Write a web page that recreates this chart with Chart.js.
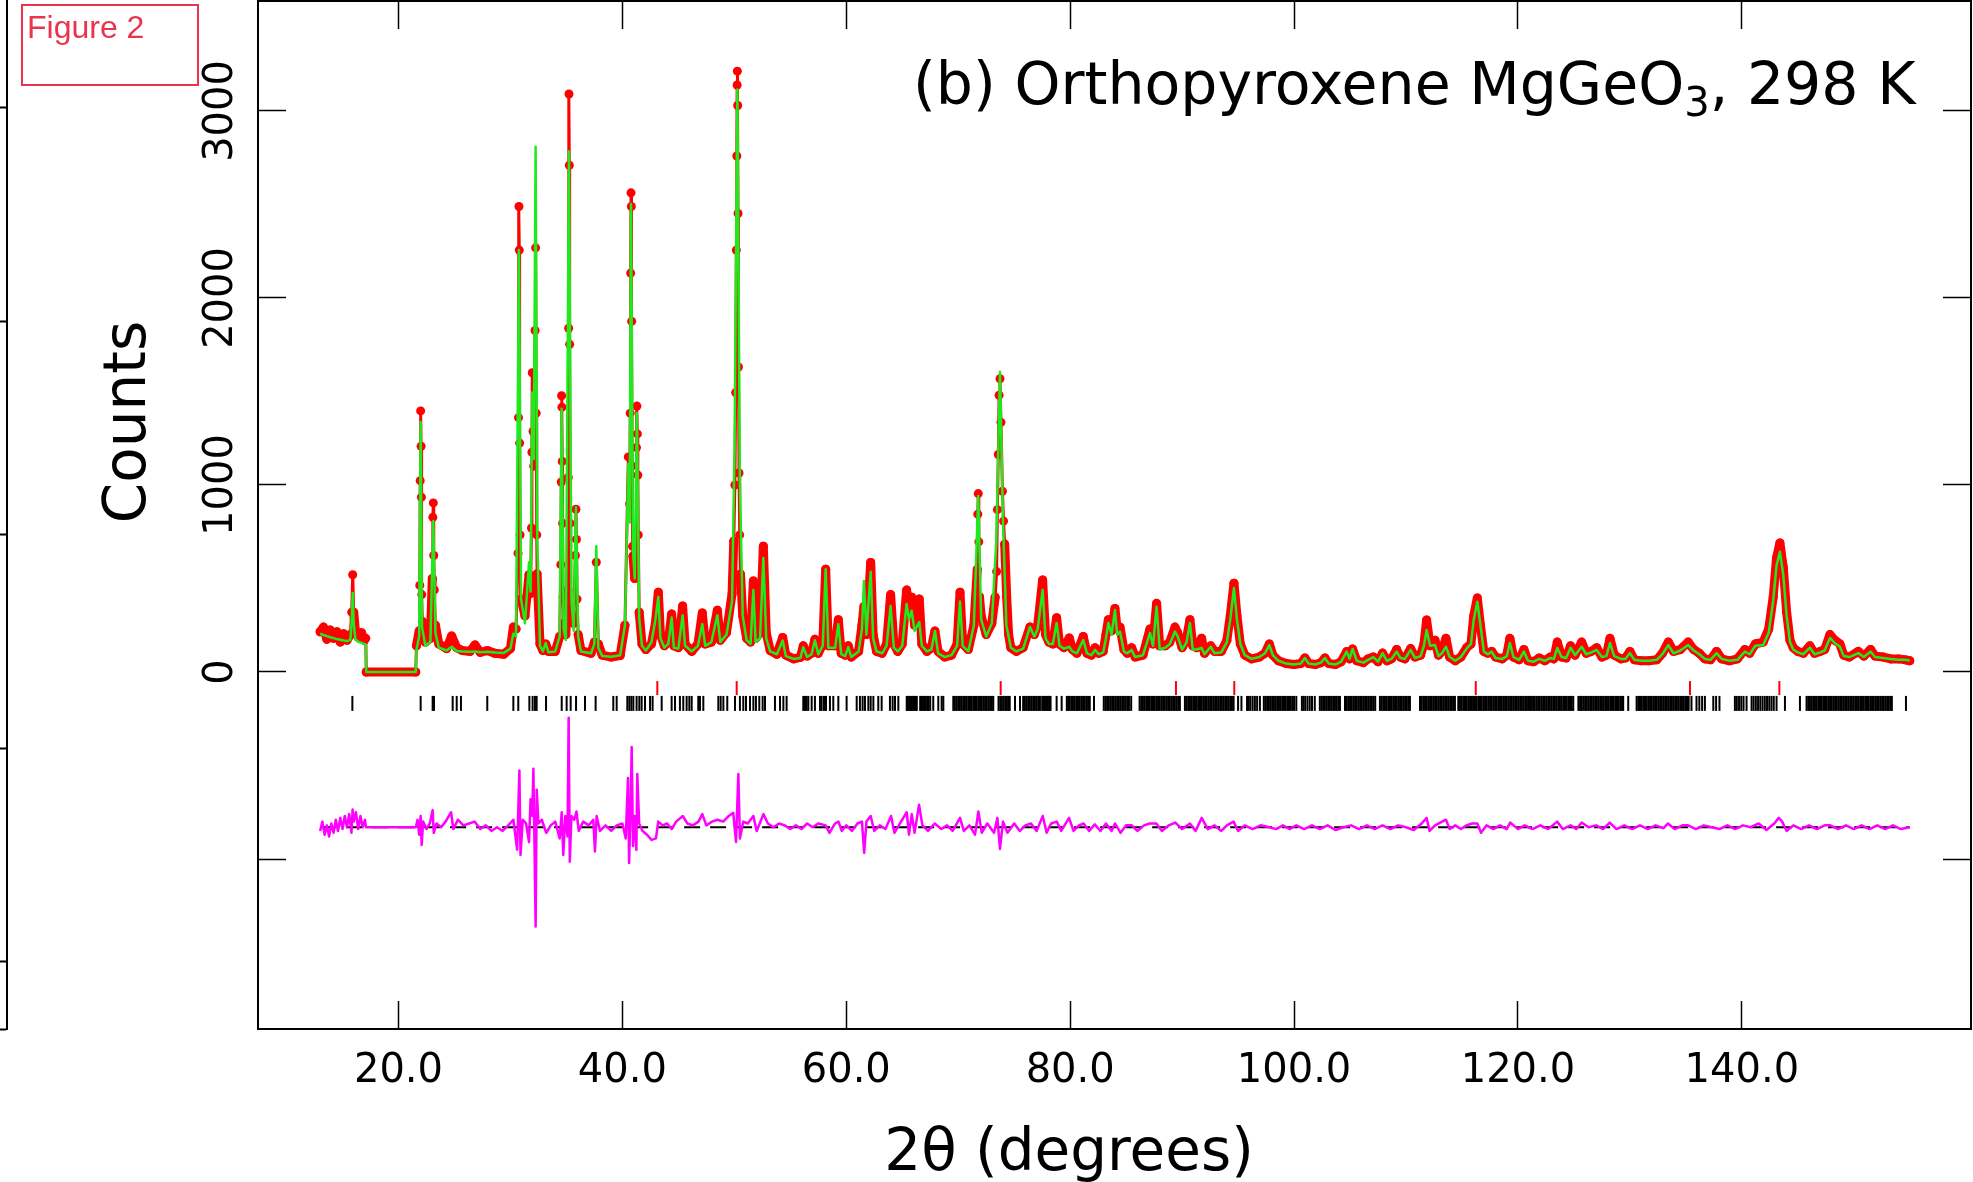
<!DOCTYPE html>
<html>
<head>
<meta charset="utf-8">
<script src="https://cdn.jsdelivr.net/npm/chart.js@4.4.0/dist/chart.umd.min.js"></script>
<style>
  html, body { margin: 0; padding: 0; background: #fff; }
  canvas { display: block; }
</style>
</head>
<body>
<canvas id="grafico" width="1973" height="1182"></canvas>
<script>
const obsTheta = [
  13.0,13.3,13.6,13.9,14.2,14.5,14.8,15.1,15.4,15.7,
  15.82,15.91,16.0,16.15,16.4,16.7,16.95,17.08,17.12,21.54,
  21.6,21.85,21.9,21.94,21.98,22.02,22.05,22.08,22.13,22.4,
  22.85,23.02,23.07,23.11,23.15,23.2,23.3,23.6,24.3,24.75,
  25.2,25.7,26.4,26.83,27.3,27.93,28.6,29.4,30.0,30.26,
  30.5,30.68,30.72,30.76,30.79,30.82,30.86,30.9,31.0,31.3,
  31.66,31.8,31.88,31.92,31.95,32.02,32.08,32.2,32.25,32.3,
  32.35,32.38,32.64,32.9,33.15,33.4,34.0,34.4,34.5,34.54,
  34.57,34.6,34.63,34.66,34.7,34.78,34.95,35.14,35.17,35.2,
  35.23,35.26,35.29,35.33,35.38,35.65,35.8,35.85,35.9,35.95,
  36.05,36.3,37.2,37.5,37.67,37.85,38.2,39.0,39.8,40.23,
  40.53,40.65,40.7,40.74,40.77,40.8,40.83,40.87,40.91,40.95,
  41.1,41.22,41.26,41.3,41.34,41.38,41.42,41.5,41.75,42.1,
  42.6,42.95,43.21,43.4,43.75,44.1,44.4,44.6,45.0,45.38,
  45.6,46.2,46.75,47.14,47.4,47.95,48.48,48.75,49.3,49.8,
  49.95,50.05,50.12,50.18,50.22,50.25,50.27,50.3,50.33,50.37,
  50.42,50.48,50.55,50.75,51.1,51.45,51.7,51.9,52.3,52.59,
  52.85,53.2,53.8,54.32,54.6,55.3,55.9,56.16,56.5,56.9,
  57.2,57.5,57.9,58.16,58.4,59.0,59.29,59.55,59.9,60.18,
  60.45,61.1,61.4,61.58,61.8,62.18,62.4,62.7,63.2,63.6,
  63.96,64.25,64.6,65.0,65.39,65.6,65.84,66.1,66.52,66.75,
  67.2,67.6,67.92,68.2,68.8,69.4,69.9,70.16,70.4,70.9,
  71.4,71.7,71.75,71.79,71.84,71.9,72.05,72.5,73.0,73.3,
  73.43,73.5,73.58,73.65,73.73,73.82,73.95,74.05,74.15,74.33,
  74.5,74.7,
  75.2,75.8,76.41,76.8,77.1,77.54,77.8,
  78.1,78.45,78.79,79.05,79.45,79.92,80.2,80.6,81.17,81.5,
  81.9,82.22,82.55,82.95,83.2,83.41,83.7,84.0,84.2,84.45,
  84.8,85.1,85.49,85.8,86.5,87.13,87.4,87.72,88.0,88.5,
  88.9,89.36,89.6,90.0,90.4,90.7,90.95,91.3,91.74,92.0,
  92.55,92.9,93.5,94.0,94.3,94.63,94.9,95.2,95.6,96.2,
  96.9,97.4,97.79,98.1,98.6,99.3,100.0,100.6,100.97,101.3,
  101.9,102.4,102.76,103.1,103.7,104.2,104.7,104.95,105.23,105.6,
  106.2,106.6,107.08,107.5,107.91,108.3,108.7,109.16,109.5,109.9,
  110.41,110.8,111.3,111.6,111.84,112.15,112.59,112.9,113.2,113.57,
  113.9,114.4,114.9,115.42,115.8,116.05,116.37,116.65,116.95,117.3,
  117.65,118.0,118.6,119.0,119.28,119.6,120.1,120.53,120.9,121.4,
  121.9,122.4,122.9,123.2,123.51,123.9,124.3,124.7,125.1,125.69,
  126.1,126.55,127.03,127.5,127.9,128.22,128.6,129.2,129.6,130.0,
  130.4,131.0,131.7,132.4,132.9,133.43,133.9,134.5,135.21,135.7,
  136.2,136.7,137.2,137.74,138.2,138.9,139.6,140.27,140.7,141.2,
  141.91,142.4,142.8,143.1,143.4,143.7,144.0,144.3,144.59,145.0,
  145.5,146.08,146.5,147.0,147.4,147.87,148.3,148.76,149.1,149.6,
  150.4,150.9,151.5,151.9,152.63,153.3,154.0,154.6,155.0
];
const obsCounts = [
  215,240,175,225,180,215,160,205,170,200,
  320,520,320,220,185,210,170,180,0,0,
  140,220,463,1023,1396,1207,935,414,270,160,
  180,500,827,904,623,439,250,150,125,193,
  130,115,110,145,105,115,100,95,125,240,
  230,635,1360,2489,2256,1224,733,390,380,300,
  520,420,770,1175,1600,1286,1100,1826,2268,1384,
  733,525,150,115,150,110,110,190,574,1016,
  1477,1416,1126,795,402,260,200,439,1040,1838,
  3091,2710,1752,795,328,260,623,870,709,390,
  200,115,100,160,587,150,90,80,88,250,
  1150,900,1384,2133,2562,2489,1875,1102,672,620,
  500,733,1200,1422,1273,1053,733,320,150,120,
  150,260,427,200,140,160,310,140,130,353,
  150,110,150,316,150,160,330,170,210,420,
  700,1000,1494,2256,2759,3139,3213,3029,2452,1631,
  1064,733,524,300,180,160,487,180,210,673,
  210,115,95,185,90,70,78,140,85,100,
  175,100,150,550,140,140,280,100,90,140,
  80,110,250,350,200,586,200,110,100,150,
  414,150,110,150,438,330,400,250,390,150,
  110,130,219,110,80,90,150,427,150,120,
  250,549,844,954,696,402,300,200,260,400,
  537,868,1163,1480,1568,1335,966,807,684,402,
  200,130,
  110,130,241,200,250,492,200,
  160,150,290,150,130,182,120,100,190,100,
  90,130,100,110,200,280,220,340,230,240,
  120,100,130,80,90,230,150,367,140,140,
  160,240,210,130,180,280,140,130,180,100,
  140,110,110,170,300,475,300,150,90,70,
  80,100,150,90,60,45,40,45,75,45,
  40,50,75,45,40,55,109,70,123,60,
  50,70,80,55,101,60,70,120,80,70,
  125,80,90,150,278,140,170,90,110,180,
  80,60,80,130,150,300,396,250,110,100,
  110,80,70,90,180,80,65,120,60,55,
  75,60,80,70,160,80,75,140,90,160,
  100,110,130,80,90,180,90,70,75,110,
  65,60,60,65,100,160,110,120,160,120,
  100,70,65,110,70,60,70,120,100,150,
  160,230,400,610,690,560,320,170,130,110,
  100,140,100,110,120,200,170,150,90,80,
  110,85,120,85,80,70,70,65,60
];

// calculated profile (green line)
const calcTheta = [
  13.0,13.3,13.6,13.9,14.2,14.5,14.8,15.1,15.4,15.7,
  15.82,15.91,16.0,16.15,16.4,16.7,16.95,17.08,17.12,21.54,
  21.6,21.85,21.98,22.1,22.4,22.85,23.11,23.3,23.6,24.3,
  24.75,25.2,25.7,26.4,26.83,27.3,27.93,28.6,29.4,30.0,
  30.26,30.5,30.76,30.95,31.3,31.66,31.8,31.95,32.08,32.25,
  32.4,32.64,32.9,33.15,33.4,34.0,34.4,34.57,34.75,34.95,
  35.23,35.45,35.65,35.85,36.05,36.3,37.2,37.5,37.67,37.85,
  38.2,39.0,39.8,40.23,40.53,40.65,40.77,40.95,41.1,41.3,
  41.5,41.75,42.1,42.6,42.95,43.21,43.4,43.75,44.1,44.4,
  44.6,45.0,45.38,45.6,46.2,46.75,47.14,47.4,47.95,48.48,
  48.75,49.3,49.8,50.02,50.27,50.5,50.75,51.1,51.45,51.7,
  51.9,52.3,52.59,52.85,53.2,53.8,54.32,54.6,55.3,55.9,
  56.16,56.5,56.9,57.2,57.5,57.9,58.16,58.4,59.0,59.29,
  59.55,59.9,60.18,60.45,61.1,61.4,61.58,61.8,62.18,62.4,
  62.7,63.2,63.6,63.96,64.25,64.6,65.0,65.39,65.6,65.84,
  66.1,66.52,66.75,67.2,67.6,67.92,68.2,68.8,69.4,69.9,
  70.16,70.4,70.9,71.4,71.79,72.05,72.5,73.0,73.4,73.73,
  74.0,74.3,74.7,75.2,75.8,76.41,76.8,77.1,77.54,77.8,
  78.1,78.45,78.79,79.05,79.45,79.92,80.2,80.6,81.17,81.5,
  81.9,82.22,82.55,82.95,83.2,83.41,83.7,84.0,84.2,84.45,
  84.8,85.1,85.49,85.8,86.5,87.13,87.4,87.72,88.0,88.5,
  88.9,89.36,89.6,90.0,90.4,90.7,90.95,91.3,91.74,92.0,
  92.55,92.9,93.5,94.0,94.3,94.63,94.9,95.2,95.6,96.2,
  96.9,97.4,97.79,98.1,98.6,99.3,100.0,100.6,100.97,101.3,
  101.9,102.4,102.76,103.1,103.7,104.2,104.7,104.95,105.23,105.6,
  106.2,106.6,107.08,107.5,107.91,108.3,108.7,109.16,109.5,109.9,
  110.41,110.8,111.3,111.6,111.84,112.15,112.59,112.9,113.2,113.57,
  113.9,114.4,114.9,115.42,115.8,116.05,116.37,116.65,116.95,117.3,
  117.65,118.0,118.6,119.0,119.28,119.6,120.1,120.53,120.9,121.4,
  121.9,122.4,122.9,123.2,123.51,123.9,124.3,124.7,125.1,125.69,
  126.1,126.55,127.03,127.5,127.9,128.22,128.6,129.2,129.6,130.0,
  130.4,131.0,131.7,132.4,132.9,133.43,133.9,134.5,135.21,135.7,
  136.2,136.7,137.2,137.74,138.2,138.9,139.6,140.27,140.7,141.2,
  141.91,142.4,142.8,143.1,143.4,143.7,144.0,144.3,144.59,145.0,
  145.5,146.08,146.5,147.0,147.4,147.87,148.3,148.76,149.1,149.6,
  150.4,150.9,151.5,151.9,152.63,153.3,154.0,154.6,155.0
];
const calcCounts = [
  205,198,192,186,181,176,172,168,165,172,
  270,422,260,175,162,156,150,146,0,0,
  118,190,1337,240,140,160,807,210,130,115,
  135,112,110,108,110,106,108,104,102,125,
  205,190,2256,390,260,587,430,1494,1139,2808,
  700,140,110,155,105,110,190,1408,230,171,
  2784,380,220,881,190,110,100,150,673,130,
  85,82,90,250,1114,800,2502,650,500,1385,
  290,140,115,160,280,401,180,130,150,291,
  130,125,304,140,110,140,256,140,160,304,
  160,200,380,1200,3115,1000,300,170,150,439,
  160,180,610,180,110,95,168,85,70,75,
  133,80,95,170,95,140,550,130,130,256,
  95,85,133,80,110,230,487,200,536,180,
  110,100,140,353,130,110,140,364,280,328,
  220,267,140,110,120,219,100,80,90,140,
  377,140,110,250,941,280,190,260,700,1605,
  800,250,130,110,125,241,190,230,439,180,
  150,150,262,140,125,135,110,100,171,100,
  90,118,95,105,180,262,200,331,200,216,
  110,100,118,80,90,208,140,349,120,130,
  150,216,190,120,160,262,120,120,128,95,
  135,100,105,160,280,449,280,150,90,70,
  80,100,144,90,60,45,40,45,75,45,
  40,50,75,45,40,55,109,70,123,60,
  50,65,80,55,101,60,70,109,75,70,
  118,75,85,140,224,140,144,85,100,135,
  80,60,80,125,150,280,376,250,110,95,
  109,75,70,85,155,80,65,109,60,55,
  70,60,75,70,128,80,75,130,90,135,
  95,105,118,80,85,155,85,70,70,101,
  65,60,60,65,95,144,100,115,144,115,
  95,70,65,101,70,60,65,109,95,140,
  144,210,380,570,643,520,300,160,120,105,
  95,130,95,105,115,182,155,135,85,80,
  101,80,109,80,75,70,65,65,62
];

// difference curve (obs - calc), drawn shifted down by diffOffset
const diffTheta = [
  13.0,13.2,13.4,13.6,13.8,14.0,14.2,14.4,14.6,14.8,
  15.0,15.2,15.4,15.6,15.8,15.9,16.0,16.2,16.4,16.6,
  16.8,17.0,17.1,21.55,21.7,21.85,21.98,22.07,22.2,22.5,
  22.8,23.05,23.15,23.4,23.8,24.2,24.7,24.9,25.3,25.8,
  26.3,26.8,27.3,27.8,28.3,28.8,29.3,29.8,30.26,30.6,
  30.8,30.9,31.1,31.4,31.66,31.8,31.95,32.05,32.15,32.25,
  32.35,32.5,32.8,33.2,33.6,34.0,34.4,34.58,34.72,34.9,
  35.1,35.2,35.3,35.45,35.7,35.9,36.1,36.5,37.0,37.4,
  37.55,37.7,38.0,38.5,39.0,39.5,40.0,40.3,40.5,40.6,
  40.75,40.83,40.95,41.1,41.25,41.33,41.5,41.8,42.2,42.6,
  43.0,43.2,43.6,44.0,44.4,44.8,45.4,45.8,46.3,46.8,
  47.14,47.5,48.0,48.5,49.0,49.5,49.9,50.15,50.36,50.5,
  50.8,51.2,51.7,52.0,52.6,53.0,53.5,54.0,54.5,55.0,
  55.5,56.0,56.5,57.0,57.5,58.16,58.5,59.0,59.3,59.6,
  60.0,60.5,61.0,61.4,61.6,61.8,62.18,62.5,63.0,63.5,
  64.0,64.3,64.8,65.4,65.6,65.85,66.1,66.5,66.8,67.3,
  67.9,68.5,69.0,69.5,70.16,70.5,71.0,71.5,71.8,72.1,
  72.6,73.2,73.5,73.73,74.0,74.4,75.0,75.5,76.0,76.5,
  77.0,77.55,77.9,78.3,78.8,79.2,79.9,80.3,80.8,81.2,
  81.7,82.2,82.7,83.2,83.7,84.0,84.5,85.0,85.5,86.0,
  86.6,87.1,87.7,88.2,88.8,89.4,90.0,90.7,91.2,91.75,
  92.3,92.9,93.5,94.0,94.6,95.0,95.6,96.3,97.0,97.8,
  98.4,99.0,99.6,100.2,100.9,101.6,102.3,103.0,103.7,104.4,
  105.1,105.8,106.5,107.2,107.9,108.6,109.3,110.0,110.7,111.4,
  111.84,112.1,112.6,113.57,113.9,114.4,114.9,115.4,115.9,116.37,
  116.7,117.2,117.8,118.4,119.0,119.3,120.0,120.6,121.3,122.0,
  122.7,123.5,124.0,124.7,125.2,125.7,126.3,127.0,127.6,128.2,
  128.8,129.5,130.2,130.9,131.6,132.3,133.0,133.4,134.0,134.7,
  135.2,135.9,136.6,137.3,138.0,138.7,139.4,140.1,140.8,141.5,
  142.2,142.9,143.3,143.6,144.0,144.6,145.3,146.0,146.7,147.4,
  147.9,148.6,149.3,150.0,150.7,151.4,152.1,152.8,153.5,154.2,
  155.0
];
const diffCounts = [
  -20,30,-40,10,-50,20,-30,40,-20,50,
  -10,60,0,70,-30,95,30,80,-10,60,
  0,40,0,0,40,-40,60,-95,30,-10,
  20,92,-30,20,0,30,80,-10,40,10,
  20,30,-10,10,-20,0,-20,10,40,-120,
  303,-148,40,20,-80,150,60,312,-100,-531,
  200,20,40,-30,10,30,-60,80,-148,60,
  -50,585,-184,60,40,84,-20,30,10,40,
  -130,60,-20,10,-20,10,20,-60,263,-191,
  150,429,-100,60,-121,284,20,-20,-40,-68,
  -60,30,10,20,-10,30,60,20,10,30,
  70,10,30,40,30,60,77,-79,285,-60,
  30,20,60,-20,70,20,0,20,10,-10,
  10,-10,20,0,20,10,-30,20,30,-20,
  10,-20,20,30,-138,30,60,-20,10,-10,
  60,-30,20,80,-40,70,-30,120,10,-20,
  20,-10,10,-20,50,-20,10,-40,84,-30,
  20,-30,50,-116,30,-30,20,-20,10,20,
  -20,60,-30,20,30,-20,50,-20,10,20,
  -20,15,-20,20,-20,20,-30,10,10,-20,
  10,20,20,-20,10,25,-10,20,-20,50,
  -10,10,-20,10,30,-20,10,-10,10,0,
  -10,10,-10,10,-10,10,-10,10,-15,0,
  10,-10,10,-10,10,-10,10,0,-15,20,
  50,-20,10,40,-10,10,-10,10,20,20,
  -30,10,-10,10,-10,25,-10,10,-10,10,
  -10,30,-10,10,-10,25,0,10,-10,25,
  -10,10,-10,10,-10,10,-5,20,-10,10,
  10,-10,10,0,-10,10,-10,10,0,20,
  -15,20,50,30,-20,10,-10,10,-10,10,
  10,-10,10,-10,10,-10,10,-10,10,-10,
  0
];
const diffOffset = -830;

// reflection positions (black: main phase, red: second phase)
const blackTicks = [
  15.88,21.98,23.05,23.17,24.84,25.2,25.58,27.93,30.26,30.7,
  31.69,31.98,32.19,32.34,33.18,34.58,35.02,35.38,35.86,36.66,
  37.61,39.19,39.49,40.44,40.62,40.8,40.98,41.27,41.51,41.72,
  42.02,42.47,42.7,43.51,44.4,44.7,45.14,45.44,45.74,45.98,
  46.19,46.78,46.93,47.23,48.57,48.78,49.02,49.37,50.06,50.5,
  50.8,51.04,51.4,51.7,51.93,52.23,52.53,52.74,53.63,54.08,
  54.38,54.67,56.16,56.31,56.46,56.61,56.91,57.2,57.65,57.8,
  58.01,58.19,58.54,58.84,59.29,60.03,60.93,61.22,61.46,61.67,
  61.97,62.18,62.42,62.86,63.16,63.9,64.14,64.35,64.65,65.4,
  65.5,65.62,65.75,65.85,65.97,66.1,66.2,66.3,66.6,66.72,
  66.85,66.97,67.1,67.23,67.35,67.5,67.77,68.22,68.52,68.67,
  69.56,69.7,69.85,70.0,70.15,70.3,70.45,70.6,70.75,70.9,
  71.05,71.2,71.35,71.5,71.65,71.8,71.95,72.1,72.25,72.4,
  72.55,72.7,72.85,73.0,73.13,73.6,73.75,73.9,74.05,74.2,
  74.35,74.5,74.6,75.07,75.52,75.8,75.95,76.1,76.25,76.4,
  76.55,76.7,76.85,77.0,77.15,77.3,77.5,77.62,77.75,77.88,
  78.0,78.12,78.25,78.79,79.24,79.7,79.82,79.95,80.1,80.25,
  80.4,80.55,80.7,80.85,81.0,81.15,81.3,81.45,81.6,81.75,
  82.13,83.0,83.15,83.3,83.45,83.6,83.75,83.9,84.05,84.2,
  84.35,84.5,84.65,84.8,84.95,85.1,85.25,85.45,86.2,86.35,
  86.5,86.65,86.8,86.95,87.1,87.25,87.4,87.55,87.7,87.85,
  88.0,88.15,88.3,88.45,88.6,88.75,88.9,89.05,89.2,89.35,
  89.5,89.65,89.8,90.25,90.4,90.55,90.7,90.85,91.0,91.15,
  91.3,91.45,91.6,91.75,91.9,92.05,92.2,92.35,92.5,92.65,
  92.8,92.95,93.1,93.25,93.4,93.55,93.7,93.85,94.0,94.15,
  94.3,94.45,94.6,95.0,95.3,95.8,95.95,96.1,96.3,96.5,
  96.7,96.95,97.3,97.45,97.6,97.75,97.9,98.05,98.2,98.35,
  98.5,98.65,98.8,98.95,99.1,99.25,99.4,99.55,99.7,99.85,
  100.0,100.2,100.7,100.85,101.0,101.2,101.4,101.6,101.85,102.3,
  102.45,102.6,102.75,102.9,103.05,103.2,103.35,103.5,103.65,103.8,
  103.95,104.1,104.55,104.7,104.85,105.0,105.15,105.3,105.45,105.6,
  105.75,105.9,106.05,106.2,106.35,106.5,106.65,106.8,106.95,107.1,
  107.25,107.67,107.82,107.97,108.12,108.27,108.42,108.57,108.72,108.87,
  109.02,109.17,109.32,109.47,109.62,109.77,109.92,110.07,110.22,110.35,
  111.25,111.4,111.55,111.7,111.85,112.0,112.15,112.3,112.45,112.6,
  112.75,112.9,113.05,113.2,113.35,113.5,113.65,113.8,113.95,114.1,
  114.25,114.37,114.67,114.82,114.97,115.12,115.27,115.42,115.57,115.72,
  115.87,116.0,116.16,116.31,116.46,116.61,116.76,116.91,117.06,117.21,
  117.36,117.51,117.66,117.81,117.96,118.11,118.26,118.4,118.55,118.7,
  118.85,119.0,119.15,119.3,119.45,119.6,119.75,119.9,120.05,120.2,
  120.35,120.5,120.65,120.8,120.95,121.07,121.2,121.35,121.5,121.65,
  121.8,121.95,122.1,122.25,122.4,122.55,122.7,122.85,123.0,123.15,
  123.3,123.45,123.6,123.75,123.9,124.05,124.2,124.35,124.5,124.65,
  124.8,124.94,125.4,125.55,125.7,125.85,126.0,126.15,126.3,126.45,
  126.6,126.75,126.9,127.05,127.2,127.35,127.5,127.65,127.8,127.95,
  128.1,128.25,128.4,128.55,128.7,128.85,129.0,129.15,129.3,129.4,
  129.85,130.6,130.75,130.9,131.05,131.2,131.35,131.5,131.65,131.8,
  131.95,132.1,132.25,132.4,132.55,132.7,132.85,133.0,133.15,133.3,
  133.45,133.6,133.75,133.9,134.05,134.2,134.35,134.5,134.65,134.8,
  134.95,135.1,135.25,135.5,135.95,136.2,136.45,136.7,137.45,137.7,
  138.0,139.38,139.55,139.75,139.95,140.15,140.42,140.87,141.05,141.25,
  141.45,141.65,141.85,142.05,142.25,142.45,142.65,142.85,143.1,143.85,
  145.19,145.78,145.93,146.08,146.23,146.38,146.53,146.68,146.83,146.98,
  147.13,147.28,147.43,147.58,147.73,147.88,148.03,148.18,148.33,148.48,
  148.63,148.78,148.93,149.08,149.23,149.38,149.53,149.68,149.83,149.98,
  150.13,150.28,150.43,150.58,150.73,150.88,151.03,151.18,151.33,151.48,
  151.63,151.78,151.93,152.08,152.23,152.38,152.53,152.68,152.83,152.98,
  153.13,153.28,153.4,154.66
];
const redTicks = [43.12, 50.21, 73.79, 89.45, 94.66, 116.23, 135.37, 143.35];
const blackTickRow = -168;
const redTickRow = -86;

// axes
const xMin = 7.45, xMax = 160.47;
const yMin = -1909, yMax = 3588;
const xTicks = [20, 40, 60, 80, 100, 120, 140];
const yTicks = [-1000, 0, 1000, 2000, 3000];
// stray axis at the far left (other panel), arbitrary units
const strayMin = -0.314, strayMax = 4.501;
const strayTicks = [-0.314, 0, 1, 2, 3, 4];

const fonte = 'DejaVu Sans';
Chart.defaults.font.family = fonte;
Chart.defaults.color = '#000';

function pontos(xs, ys, desloc) {
  return xs.map((t, i) => ({ x: t, y: ys[i] + (desloc || 0) }));
}
function linhaTicks(xs, yRow) {
  return xs.map(t => ({ x: t, y: yRow }));
}

// inward ticks, frame on all four sides
function eixoX(pos, comRotulos) {
  return {
    type: 'linear', position: pos, min: xMin, max: xMax,
    afterBuildTicks: s => { s.ticks = xTicks.map(v => ({ value: v })); },
    afterFit: s => {
      s.height = pos === 'bottom' ? 153 : 1;
      s.paddingLeft = 0; s.paddingRight = 0; s.paddingTop = 0; s.paddingBottom = 0;
    },
    border: { display: true, color: '#000', width: 2 },
    grid: { drawOnChartArea: false, drawTicks: true, tickLength: -28, tickWidth: 1.5, tickColor: '#000' },
    ticks: {
      display: comRotulos, color: '#000', font: { family: fonte, size: 40 },
      padding: 47, maxRotation: 0, minRotation: 0, autoSkip: false,
      callback: v => v.toFixed(1)
    }
  };
}
function eixoY(pos, comRotulos, largura) {
  return {
    type: 'linear', position: pos, min: yMin, max: yMax, weight: 0,
    afterBuildTicks: s => { s.ticks = yTicks.map(v => ({ value: v })); },
    afterFit: s => {
      s.width = largura;
      s.paddingLeft = 0; s.paddingRight = 0; s.paddingTop = 0; s.paddingBottom = 0;
    },
    border: { display: true, color: '#000', width: 2 },
    grid: { drawOnChartArea: false, drawTicks: true, tickLength: -28, tickWidth: 1.5, tickColor: '#000' },
    ticks: {
      display: comRotulos, color: '#000', font: { family: fonte, size: 40 },
      padding: 13, minRotation: 90, maxRotation: 90, crossAlign: 'center', autoSkip: false,
      callback: v => (v >= 0 ? String(v) : '')
    }
  };
}

const textosPlugin = {
  id: 'textos',
  afterDraw(chart) {
    const ctx = chart.ctx;
    ctx.save();
    ctx.fillStyle = '#000';
    ctx.textBaseline = 'alphabetic';

    // panel label with subscript
    ctx.textAlign = 'left';
    let x = 913;
    const base = 104;
    ctx.font = '58.5px "' + fonte + '"';
    ctx.fillText('(b) Orthopyroxene MgGeO', x, base);
    x += ctx.measureText('(b) Orthopyroxene MgGeO').width;
    ctx.font = '40px "' + fonte + '"';
    ctx.fillText('3', x, base + 12);
    x += ctx.measureText('3').width;
    ctx.font = '58.5px "' + fonte + '"';
    ctx.fillText(', 298 K', x, base);

    // axis titles
    ctx.font = '58px "' + fonte + '"';
    ctx.textAlign = 'center';
    ctx.fillText('2\u03b8 (degrees)', 1069, 1170);
    ctx.save();
    ctx.translate(145, 422);
    ctx.rotate(-Math.PI / 2);
    ctx.fillText('Counts', 0, 0);
    ctx.restore();

    // "Figure 2" box
    ctx.strokeStyle = '#e8344c';
    ctx.lineWidth = 2;
    ctx.strokeRect(22, 5, 176, 80);
    ctx.fillStyle = '#e8344c';
    ctx.textAlign = 'left';
    ctx.font = '32px "Liberation Sans"';
    ctx.fillText('Figure 2', 27, 38);
    ctx.restore();
  }
};

// steep or closely spaced flank points of sharp peaks: thin red so the dots sit on the green fit
function larguraObs(c) {
  const dx = Math.abs(c.p1.x - c.p0.x);
  const dy = Math.abs(c.p1.y - c.p0.y);
  return (dx < 1.5 || dy / Math.max(dx, 1) > 35) ? 3 : 9;
}

const ctx = document.getElementById('grafico').getContext('2d');
const meuGrafico = new Chart(ctx, {
  type: 'scatter',
  data: {
    datasets: [
      {
        label: 'calc', data: pontos(calcTheta, calcCounts), showLine: true, order: 1,
        borderColor: 'rgb(30,235,30)', borderWidth: 2.5, pointRadius: 0,
        borderJoinStyle: 'round', tension: 0
      },
      {
        label: 'obs', data: pontos(obsTheta, obsCounts), showLine: true, order: 2,
        borderColor: '#ff0000', borderWidth: 9, pointRadius: 4.5, pointBorderWidth: 0,
        pointBackgroundColor: '#ff0000', borderJoinStyle: 'round', borderCapStyle: 'round',
        tension: 0, segment: { borderWidth: larguraObs }
      },
      {
        label: 'diff', data: pontos(diffTheta, diffCounts, diffOffset), showLine: true, order: 1,
        borderColor: '#ff00ff', borderWidth: 2.5, pointRadius: 0,
        borderJoinStyle: 'round', tension: 0
      },
      {
        label: 'zero', data: [{ x: 13.0, y: diffOffset }, { x: 155.0, y: diffOffset }],
        showLine: true, order: 3, borderColor: '#000', borderWidth: 2,
        borderDash: [16, 10], pointRadius: 0
      },
      {
        label: 'reflexoes', data: linhaTicks(blackTicks, blackTickRow), showLine: false, order: 3,
        pointStyle: 'line', rotation: 90, pointRadius: 7.5, pointBorderWidth: 2,
        pointBorderColor: '#000', pointBackgroundColor: '#000'
      },
      {
        label: 'fase2', data: linhaTicks(redTicks, redTickRow), showLine: false, order: 3,
        pointStyle: 'line', rotation: 90, pointRadius: 7, pointBorderWidth: 2,
        pointBorderColor: '#ff0000', pointBackgroundColor: '#ff0000'
      }
    ]
  },
  options: {
    responsive: false,
    animation: false,
    events: [],
    layout: { padding: 0, autoPadding: false },
    plugins: { legend: { display: false }, tooltip: { enabled: false } },
    scales: {
      x: eixoX('bottom', true),
      xTopo: eixoX('top', false),
      y: eixoY('left', true, 251),
      yDireita: eixoY('right', false, 2),
      yBorda: {
        type: 'linear', position: 'left', min: strayMin, max: strayMax, weight: 10,
        afterBuildTicks: s => { s.ticks = strayTicks.map(v => ({ value: v })); },
        afterFit: s => { s.width = 7; s.paddingTop = 0; s.paddingBottom = 0; },
        border: { display: true, color: '#000', width: 2 },
        grid: { drawOnChartArea: false, drawTicks: true, tickLength: 7, tickWidth: 2, tickColor: '#000' },
        ticks: { display: false }
      }
    }
  },
  plugins: [textosPlugin]
});
</script>
</body>
</html>
